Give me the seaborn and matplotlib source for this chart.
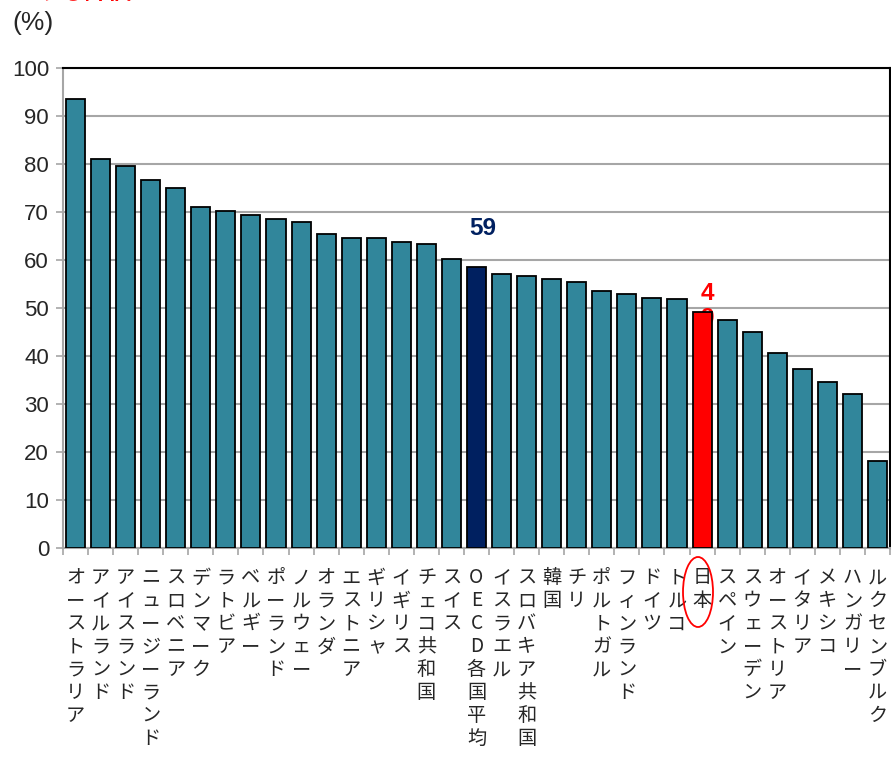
import matplotlib
matplotlib.use("Agg")
import matplotlib.pyplot as plt
import seaborn as sns
import pandas as pd
from matplotlib.patches import Ellipse

countries = ["オーストラリア", "アイルランド", "アイスランド", "ニュージーランド", "スロベニア",
             "デンマーク", "ラトビア", "ベルギー", "ポーランド", "ノルウェー", "オランダ",
             "エストニア", "ギリシャ", "イギリス", "チェコ共和国", "スイス", "OECD各国平均",
             "イスラエル", "スロバキア共和国", "韓国", "チリ", "ポルトガル", "フィンランド",
             "ドイツ", "トルコ", "日本", "スペイン", "スウェーデン", "オーストリア", "イタリア",
             "メキシコ", "ハンガリー", "ルクセンブルク"]
values = [93.5, 81.0, 79.6, 76.7, 75.0, 71.0, 70.2, 69.4, 68.5, 67.9, 65.4, 64.6, 64.6,
          63.7, 63.3, 60.2, 58.6, 57.0, 56.6, 56.0, 55.4, 53.6, 53.0, 52.0, 51.9, 49.1,
          47.5, 45.1, 40.7, 37.2, 34.6, 32.1, 18.1]
yticks = [0, 10, 20, 30, 40, 50, 60, 70, 80, 90, 100]
oecd_label = "59"
japan_label = "4\n9"

TEAL = "#31869B"
NAVY = "#002060"
RED = "#FF0000"
palette = {c: (NAVY if c == "OECD各国平均" else RED if c == "日本" else TEAL) for c in countries}

df = pd.DataFrame({"country": countries, "value": values})

sns.set_style("white")
plt.rcParams['font.family'] = ['Liberation Sans', 'Noto Sans CJK JP', 'DejaVu Sans']

fig = plt.figure(figsize=(8.91, 7.59), dpi=100)
ax = fig.add_axes([63/891, 1-548/759, 827/891, 480/759])

sns.barplot(data=df, x="country", y="value", hue="country", palette=palette,
            legend=False, width=0.76, edgecolor="black", linewidth=1.3, ax=ax,
            saturation=1, zorder=3)

ax.set_ylim(0, 100)
ax.set_xlim(-0.5, len(countries) - 0.5)
ax.set_yticks(yticks)
ax.set_yticklabels([str(t) for t in yticks], fontsize=16, family=['Liberation Sans'])
ax.yaxis.grid(True, color="#A6A6A6", linewidth=1.5, zorder=0)
ax.set_axisbelow(True)
ax.tick_params(axis="y", length=5, color="#A6A6A6", width=1.2, pad=5, left=True)

# x ticks at boundaries
ax.set_xticks([i - 0.5 for i in range(len(countries) + 1)], minor=True)
ax.tick_params(axis="x", which="minor", length=5, color="#A6A6A6", width=1.2, bottom=True)
ax.set_xticks(range(len(countries)))
ax.set_xticklabels(["\n".join(list(c)) for c in countries], fontsize=13.8,
                   family=['Noto Sans CJK JP', 'DejaVu Sans'], linespacing=1.12,
                   va="top", rotation=0)
ax.tick_params(axis="x", which="major", length=0, pad=14)
ax.set_xlabel("")
ax.set_ylabel("")

for s in ["left", "bottom"]:
    ax.spines[s].set_color("#A6A6A6")
    ax.spines[s].set_linewidth(1.5)
for s in ["top", "right"]:
    ax.spines[s].set_color("black")
    ax.spines[s].set_linewidth(1.5)
    ax.spines[s].set_visible(True)

i_oecd = countries.index("OECD各国平均")
i_jp = countries.index("日本")
ax.text(i_oecd + 0.25, values[i_oecd] + 5.5, oecd_label, color=NAVY, fontsize=17.5,
        fontweight="bold", ha="center", va="bottom", family=['Liberation Sans'], zorder=5)
ax.text(i_jp + 0.2, values[i_jp] - 3.6, japan_label, color=RED, fontsize=17.5,
        fontweight="bold", ha="center", va="bottom", family=['Liberation Sans'],
        linespacing=1.1, zorder=1)

fig.text(12/891, 1-23/759, "(%)", fontsize=19, ha="left", va="center",
         family=['Liberation Sans'])
fig.text(38/891, 1-4/759, "する評価", fontsize=17, color=RED, fontweight="bold",
         ha="left", va="bottom", family=['Noto Sans CJK JP'])

ell = Ellipse((698/891, 1-592/759), 30/891, 70/759, transform=fig.transFigure,
              fill=False, edgecolor=RED, linewidth=1.3)
fig.patches.append(ell)

fig.savefig("out.png", dpi=100)
